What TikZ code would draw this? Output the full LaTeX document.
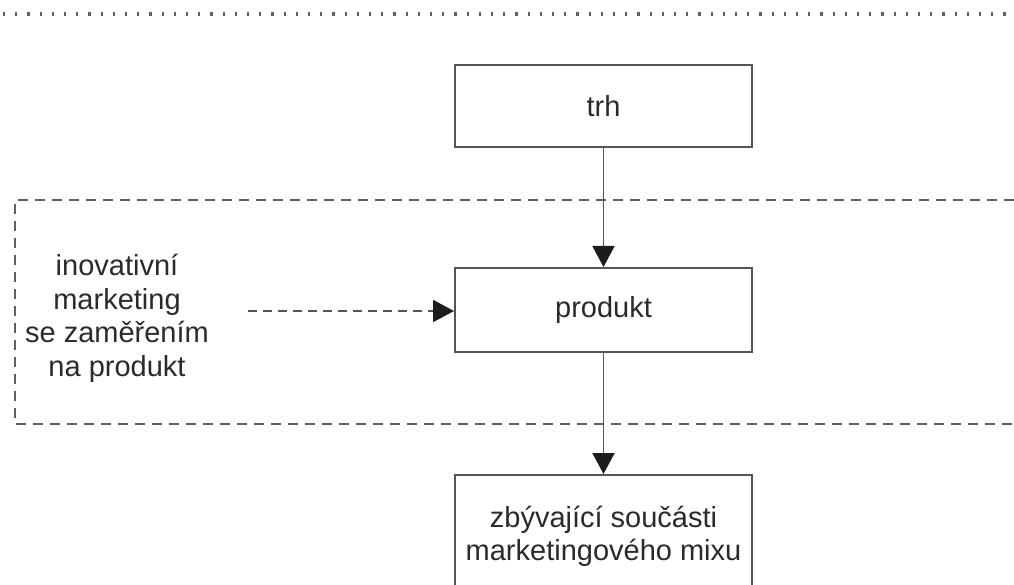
\documentclass[tikz,border=0pt]{standalone}
\usepackage{fontspec}
\setmainfont{Liberation Sans}
\usetikzlibrary{arrows.meta}
\definecolor{linegray}{HTML}{555555}
\definecolor{framegray}{HTML}{606060}
\definecolor{textgray}{HTML}{2A2A2A}
\definecolor{tipblack}{HTML}{1C1C1C}
\begin{document}
\begin{tikzpicture}[x=1pt,y=-1pt,
  box/.style={draw=linegray, line width=2pt, minimum width=297pt, inner sep=0pt},
  lbl/.style={text=textgray, font=\fontsize{29}{33.5}\selectfont, align=center, inner sep=0pt},
  mixlbl/.style={lbl, font=\fontsize{29}{33}\selectfont},
  flow/.style={draw=linegray, line width=1.8pt,
    -{Triangle[length=21pt,width=22pt,fill=tipblack,color=tipblack]}},
  dflow/.style={flow, dash pattern=on 9pt off 6pt},
  frame/.style={draw=framegray, line width=1.7pt, dash pattern=on 10pt off 7pt},
  dotline/.style={draw=framegray, line width=4pt, dash pattern=on 2.2pt off 10pt}
]
\useasboundingbox (0,0) rectangle (1014,585);
\clip (0,0) rectangle (1014,585);

% dotted rule along the top
\draw[dotline] (3,14) -- (1014,14);

% dashed frame, open to the right
\draw[frame] (1014,200) -- (15,200) -- (15,424) -- (1014,424);

% boxes
\node[box, minimum height=82pt, lbl] (trh) at (603.5,106.5) {trh};
\node[box, minimum height=84pt, lbl] (prod) at (603.5,310) {produkt};
\node[box, minimum height=160pt, anchor=north] (mix) at (603.5,474) {};
\node[mixlbl] (mixtext) at (603.5,536) {zbývající součásti\\marketingového mixu};

% side label and its dashed arrow
\node[lbl] (inov) at (117,318.5) {inovativní\\marketing\\se zaměřením\\na produkt};
\coordinate (src) at (248,311);

% connectors
\draw[flow] (trh) -- (prod);
\draw[flow] (prod) -- (mix);
\draw[dflow] (src) -- (prod.west |- src);
\end{tikzpicture}
\end{document}
